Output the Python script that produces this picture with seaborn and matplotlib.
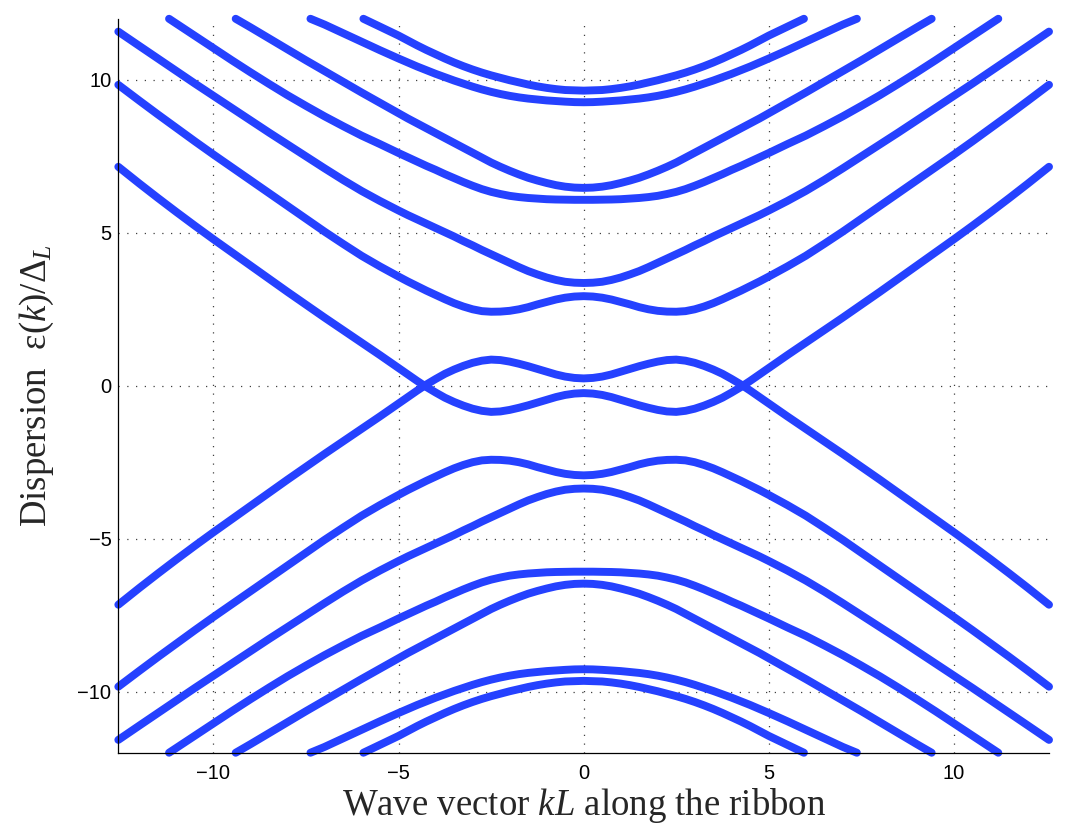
import numpy as np
import pandas as pd
import matplotlib
matplotlib.use("Agg")
import matplotlib.pyplot as plt
import seaborn as sns

# Bands for k >= 0, upper half of the spectrum.
# The spectrum is symmetric in k and in energy, so the other quarters are mirrored.
k_near = [0, 0.25, 0.5, 0.75, 1, 1.25, 1.5, 1.75, 2, 2.25, 2.5, 2.75,
          3, 3.25, 3.5, 3.75, 4, 4.25, 4.5, 4.75, 5]
k_far = [5.5, 6, 6.5, 7, 7.5, 8, 8.5, 9, 9.5, 10, 10.5, 11, 11.5, 12, 12.57]

band_p = [0.24, 0.256, 0.30, 0.37, 0.46, 0.55, 0.64, 0.72, 0.79, 0.84, 0.855,
          0.82, 0.75, 0.65, 0.53, 0.39, 0.22, 0.04, -0.16, -0.37, -0.58,
          -1.00, -1.41, -1.82, -2.23, -2.65, -3.07, -3.50, -3.93, -4.36,
          -4.79, -5.23, -5.68, -6.14, -6.61, -7.16]
band_2 = [2.93, 2.917, 2.88, 2.82, 2.74, 2.66, 2.57, 2.50, 2.45, 2.425, 2.42,
          2.44, 2.50, 2.59, 2.70, 2.83, 2.97, 3.11, 3.26, 3.41, 3.57,
          3.90, 4.25, 4.64, 5.04, 5.46, 5.88, 6.30, 6.72, 7.14, 7.56, 7.99,
          8.43, 8.87, 9.32, 9.84]
band_3 = [3.36, 3.37, 3.40, 3.46, 3.54, 3.64, 3.75, 3.88, 4.02, 4.16, 4.30,
          4.44, 4.59, 4.73, 4.88, 5.02, 5.16, 5.30, 5.44, 5.58, 5.73,
          6.04, 6.37, 6.73, 7.11, 7.50, 7.89, 8.28, 8.68, 9.08, 9.48, 9.88,
          10.29, 10.70, 11.11, 11.58]

k_band_4 = k_near + [5.5, 6, 6.5, 7, 7.5, 8, 8.5, 9, 9.5, 10, 10.5, 11, 11.2]
band_4 = [6.08, 6.08, 6.085, 6.09, 6.10, 6.12, 6.14, 6.17, 6.21, 6.27, 6.34,
          6.43, 6.54, 6.66, 6.79, 6.92, 7.06, 7.19, 7.33, 7.47, 7.61,
          7.90, 8.18, 8.49, 8.81, 9.15, 9.50, 9.87, 10.25, 10.64, 11.04,
          11.44, 11.84, 12.0]

k_band_5 = k_near + [5.5, 6, 6.5, 7, 7.5, 8, 8.5, 9, 9.4]
band_5 = [6.47, 6.48, 6.51, 6.56, 6.63, 6.71, 6.80, 6.91, 7.03, 7.16, 7.30,
          7.46, 7.62, 7.78, 7.94, 8.10, 8.26, 8.42, 8.58, 8.74, 8.91,
          9.25, 9.59, 9.94, 10.29, 10.64, 11.00, 11.36, 11.72, 12.0]

k_band_6 = k_near + [5.5, 6, 6.5, 7, 7.38]
band_6 = [9.27, 9.275, 9.29, 9.31, 9.33, 9.36, 9.39, 9.43, 9.48, 9.54, 9.61,
          9.69, 9.78, 9.88, 9.98, 10.09, 10.20, 10.32, 10.44, 10.57, 10.70,
          10.97, 11.25, 11.53, 11.81, 12.0]

k_band_7 = k_near + [5.5, 5.95]
band_7 = [9.65, 9.66, 9.67, 9.70, 9.74, 9.79, 9.85, 9.92, 9.99, 10.07, 10.15,
          10.24, 10.34, 10.45, 10.57, 10.70, 10.84, 10.98, 11.13, 11.29, 11.45,
          11.74, 12.0]

x_ticks = [-10, -5, 0, 5, 10]
y_ticks = [-10, -5, 0, 5, 10]

halves = [
    ("p", k_near + k_far, band_p),
    ("2", k_near + k_far, band_2),
    ("3", k_near + k_far, band_3),
    ("4", k_band_4, band_4),
    ("5", k_band_5, band_5),
    ("6", k_band_6, band_6),
    ("7", k_band_7, band_7),
]

rows = []
for name, ks, es in halves:
    ks = np.array(ks)
    es = np.array(es)
    k_full = np.concatenate([-ks[::-1], ks[1:]])
    e_full = np.concatenate([es[::-1], es[1:]])
    for sign, tag in [(1, "+"), (-1, "-")]:
        rows.append(pd.DataFrame({"k": k_full, "E": sign * e_full, "band": name + tag}))
df = pd.concat(rows, ignore_index=True)

sns.set_theme(style="white")
plt.rcParams["font.family"] = ["Liberation Sans", "DejaVu Sans"]
plt.rcParams["mathtext.fontset"] = "custom"
plt.rcParams["mathtext.rm"] = "Liberation Serif"
plt.rcParams["mathtext.it"] = "Liberation Serif:italic"

fig = plt.figure(figsize=(10.69, 8.27), dpi=100)
ax = fig.add_axes([0.1107, 0.0898, 0.8706, 0.8875])

sns.lineplot(data=df, x="k", y="E", units="band", estimator=None,
             color="#2541ff", linewidth=5.7, solid_capstyle="round",
             solid_joinstyle="round", clip_on=False, legend=False, ax=ax)

ax.set_xlim(-12.57, 12.57)
ax.set_ylim(-12, 12)
ax.set_xticks(x_ticks)
ax.set_yticks(y_ticks)
ax.set_axisbelow(True)
ax.grid(True, color="0.25", linestyle=(0, (1, 6)), linewidth=0.9)
ax.tick_params(direction="in", length=7, width=0.8, colors="black",
               labelsize=14.5)
ax.tick_params(axis="x", pad=8)
ax.tick_params(axis="y", pad=5)
for side in ["top", "right"]:
    ax.spines[side].set_visible(False)
for side in ["left", "bottom"]:
    ax.spines[side].set_color("black")
    ax.spines[side].set_linewidth(0.9)

ax.set_xlabel(r"Wave vector $kL$ along the ribbon", family="Liberation Serif",
              fontsize=26.5, labelpad=2)
ax.set_ylabel(r"Dispersion  $\mathrm{\varepsilon}(k)/\Delta_L$",
              family="Liberation Serif", fontsize=26.5)
ax.yaxis.set_label_coords(-0.067, 0.5)

fig.savefig("out.png", dpi=100)
